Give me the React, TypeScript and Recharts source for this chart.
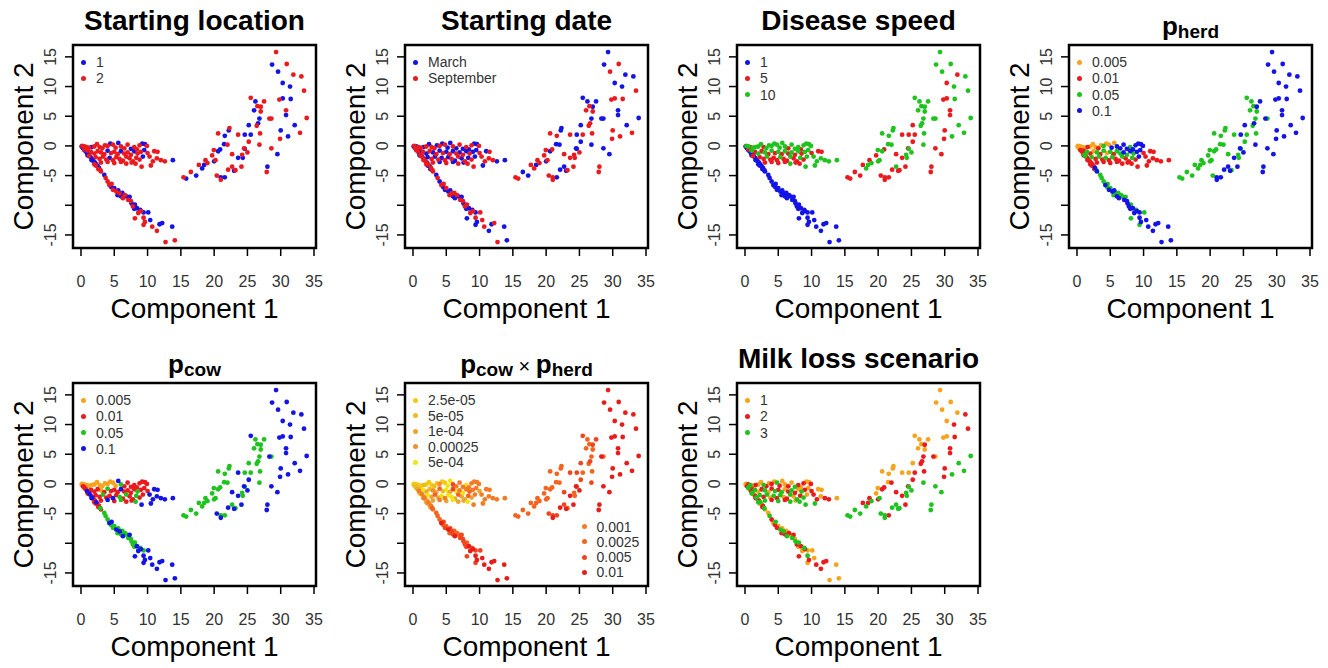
import React from 'react';
import { ScatterChart, Scatter, XAxis, YAxis, ReferenceArea } from 'recharts';

// PCA scores of the simulated scenarios, one entry per scenario.
// Order: slow-disease arm (going down), flat cluster near the origin, far cluster on the right.
const comp1 = [
  // slow arm
  0.1, 0.3, 0.5, 0.7, 0.9, 1.1, 1.3, 1.5, 1.7, 1.9, 2.1, 2.3, 2.5, 2.7, 1.0, 1.6,
  2.2, 2.0, 2.6, 3.0, 2.9, 3.5, 3.7, 4.0, 4.25, 4.5,
  4.6, 4.8, 5.0, 5.3, 5.5, 5.6, 5.8, 6.0, 6.2, 6.3,
  6.6, 6.8, 7.1, 7.3, 7.5, 7.6, 7.8, 8.0, 8.1, 8.4,
  8.6, 8.9, 9.0, 9.4, 10.1, 8.1, 9.4, 9.6, 10.4, 9.4,
  10.7, 11.8, 12.2, 11.4, 13.7, 12.7, 14.1,
  // flat cluster
  0.2, 0.5, 0.8, 1.2, 1.6, 2.0, 2.4, 2.8, 3.2, 3.6, 4.0, 4.4, 4.8, 5.2, 5.6, 6.0, 6.5, 7.0, 7.5, 8.0, 8.4, 8.8, 9.2, 9.6, 9.9,
  0.5, 1.0, 1.5, 2.0, 2.5, 3.0, 3.5, 4.0, 4.5, 5.0, 5.5, 6.0, 6.5, 7.0, 7.5, 8.0, 8.5, 9.0, 9.5, 10.0,
  1.2, 2.2, 2.8, 3.3, 3.8, 4.3, 4.8, 5.3, 5.8, 6.3, 6.8, 7.3, 7.8, 8.3, 8.8, 9.3,
  3.0, 4.0, 5.0, 6.0, 6.8, 7.6, 8.2,
  9.1, 10.5, 10.3, 11.0, 11.4, 12.0, 12.6, 13.8, 10.8, 11.5,
  // far cluster
  29.3, 28.7, 30.9, 29.6, 31.9, 33.1, 30.3, 31.4, 33.5, 25.5,
  26.2, 27.5, 30.3, 29.8, 31.5, 26.5, 27.0, 26.0, 27.0, 30.8,
  30.8, 33.9, 26.8, 28.3, 28.6, 26.6, 25.2, 26.4, 32.1, 22.3,
  22.2, 20.6, 23.6, 24.6, 25.5, 26.9, 30.0, 31.1, 32.9, 21.6,
  29.9, 25.2, 21.5, 22.0, 19.95, 20.9, 20.6, 24.5, 25.0, 26.8,
  24.6, 22.7, 24.2, 23.6, 24.3, 19.7, 20.2, 20.0, 18.7, 19.0,
  18.5, 17.7, 18.2, 24.1, 22.7, 22.1, 23.0, 23.2, 28.6, 29.5,
  28.0, 27.9, 16.5, 17.3, 15.4, 15.8, 20.4, 21.0, 21.0, 21.6,
];

const comp2 = [
  -0.1, -0.4, -0.7, -0.9, -1.2, -1.5, -1.7, -2.0, -2.3, -2.6, -2.8, -3.1, -3.4, -3.7, -1.6, -2.4,
  -3.3, -3.1, -3.9, -4.3, -4.1, -4.9, -5.4, -6.0, -6.6, -6.9,
  -6.4, -7.4, -7.1, -7.7, -8.3, -7.5, -8.0, -8.5, -7.9, -8.8,
  -8.3, -8.5, -9.1, -8.6, -9.3, -9.7, -10.2, -10.6, -9.9, -10.5,
  -11.3, -10.8, -11.0, -11.2, -11.2, -12.2, -12.1, -12.8, -12.5, -13.3,
  -13.6, -13.2, -13.0, -14.3, -13.6, -16.2, -15.9,

  0.0, -0.1, -0.2, -0.3, -0.2, -0.1, 0.3, -0.2, -0.4, 0.1, 0.0, 0.4, 0.2, -0.3, 0.5, -0.1, -0.4, 0.2, -0.5, -0.2, -0.6, 0.1, 0.4, 0.3, 0.0,
  -0.6, -0.8, -1.0, -1.3, -0.9, -1.1, -1.4, -0.8, -1.2, -1.0, -1.4, -0.9, -1.3, -1.1, -1.5, -0.9, -1.3, -1.0, -0.7, -1.2,
  -1.7, -1.9, -2.2, -1.8, -2.3, -2.0, -2.4, -1.9, -2.2, -2.5, -1.8, -2.1, -2.6, -2.0, -2.3, -1.8,
  -2.8, -2.7, -2.9, -2.7, -3.0, -2.8, -3.0,
  -3.5, -3.3, -1.8, -0.9, -2.1, -2.4, -2.6, -2.4, -2.6, -1.0,

  15.8, 13.7, 13.8, 12.5, 12.0, 11.7, 10.6, 10.0, 9.3, 8.1,
  7.5, 7.5, 8.0, 7.8, 7.9, 6.7, 6.6, 6.0, 5.8, 6.0,
  5.2, 4.7, 4.6, 4.6, 4.6, 3.8, 3.5, 3.4, 3.5, 3.0,
  2.6, 2.1, 1.9, 1.9, 1.9, 2.1, 2.6, 1.6, 2.2, 1.7,
  1.2, 0.7, 0.3, 0.2, -0.7, -0.6, -0.9, -0.4, -1.1, 0.2,
  -0.5, -1.4, -1.5, -2.0, -2.0, -1.6, -2.4, -2.6, -2.4, -2.9,
  -3.2, -3.2, -3.8, -3.5, -3.5, -4.0, -4.2, -4.1, -0.4, -1.4,
  -3.5, -4.4, -4.4, -5.0, -5.3, -5.5, -5.0, -5.3, -5.7, -5.3,
];

// scenario factors, as an index into the level lists below
const locationIdx = [
  0, 0, 0, 0, 0, 0, 0, 0, 0, 0, 0, 0, 0, 0, 0, 0,
  1, 1, 1, 1, 1, 0, 1, 1, 1, 0,
  1, 1, 0, 1, 0, 0, 1, 0, 0, 1,
  1, 0, 1, 0, 1, 0, 1, 0, 0, 0,
  1, 0, 1, 0, 0, 1, 1, 1, 0, 1,
  1, 0, 0, 1, 0, 1, 1,

  1, 1, 1, 1, 0, 1, 1, 1, 1, 1, 1, 0, 1, 1, 0, 1, 1, 1, 0, 1, 1, 1, 0, 0, 1,
  1, 1, 1, 1, 1, 1, 1, 0, 1, 1, 1, 0, 1, 1, 1, 0, 1, 1, 0, 1,
  1, 1, 1, 1, 1, 0, 1, 1, 1, 1, 1, 1, 1, 1, 1, 0,
  1, 1, 1, 1, 1, 1, 1,
  1, 1, 1, 1, 1, 1, 1, 0, 1, 1,

  1, 0, 1, 0, 1, 1, 0, 0, 1, 1,
  0, 1, 0, 1, 0, 1, 1, 0, 1, 1,
  0, 1, 0, 1, 1, 0, 0, 1, 0, 1,
  0, 1, 1, 0, 0, 1, 0, 0, 1, 0,
  1, 1, 0, 1, 1, 0, 0, 1, 1, 1,
  0, 1, 1, 0, 0, 1, 1, 0, 1, 1,
  0, 1, 0, 1, 1, 1, 0, 1, 1, 0,
  0, 1, 1, 0, 1, 0, 1, 0, 1, 0,
];

const dateIdx = [
  0, 1, 0, 1, 0, 1, 0, 1, 0, 1, 0, 1, 0, 1, 0, 1,
  0, 1, 0, 1, 1, 0, 1, 0, 1, 0,
  1, 0, 1, 0, 1, 0, 1, 0, 1, 0,
  1, 0, 1, 0, 1, 0, 1, 0, 1, 0,
  1, 0, 1, 0, 1, 0, 1, 0, 1, 0,
  1, 0, 1, 0, 0, 1, 0,

  1, 0, 1, 1, 0, 1, 0, 1, 1, 0, 1, 0, 1, 0, 0, 1, 0, 1, 0, 1, 0, 1, 0, 0, 1,
  1, 0, 1, 0, 1, 0, 1, 0, 1, 0, 1, 0, 1, 0, 1, 0, 1, 0, 0, 1,
  1, 0, 1, 0, 1, 0, 1, 0, 1, 0, 1, 0, 1, 0, 1, 0,
  1, 0, 1, 0, 1, 0, 1,
  1, 0, 1, 0, 1, 1, 0, 0, 1, 1,

  0, 0, 1, 1, 0, 0, 0, 0, 1, 0,
  0, 0, 1, 1, 1, 1, 0, 1, 1, 0,
  0, 0, 0, 0, 0, 1, 0, 1, 0, 0,
  0, 1, 1, 0, 1, 1, 1, 1, 1, 1,
  1, 0, 0, 0, 1, 1, 0, 0, 1, 0,
  0, 1, 1, 1, 1, 1, 1, 0, 1, 1,
  0, 1, 1, 1, 0, 0, 0, 1, 0, 0,
  1, 1, 0, 0, 1, 1, 1, 1, 1, 0,
];

const speedIdx = [
  0, 0, 0, 0, 0, 0, 0, 0, 0, 0, 0, 0, 0, 0, 0, 0,
  0, 0, 0, 0, 0, 0, 0, 0, 0, 0,
  0, 0, 0, 0, 0, 0, 0, 0, 0, 0,
  0, 0, 0, 0, 0, 0, 0, 0, 0, 0,
  0, 0, 0, 0, 0, 0, 0, 0, 0, 0,
  0, 0, 0, 0, 0, 0, 0,

  2, 2, 1, 2, 2, 2, 2, 1, 2, 2, 2, 2, 2, 2, 2, 2, 1, 2, 2, 2, 1, 2, 2, 2, 2,
  1, 2, 1, 2, 1, 2, 1, 2, 1, 2, 1, 2, 1, 2, 1, 2, 1, 2, 2, 1,
  1, 1, 1, 2, 1, 1, 1, 2, 1, 1, 2, 1, 1, 2, 1, 2,
  1, 1, 1, 1, 2, 1, 1,
  2, 2, 2, 1, 2, 2, 2, 2, 2, 1,

  2, 2, 2, 2, 1, 2, 1, 2, 2, 2,
  2, 2, 1, 1, 2, 2, 2, 2, 2, 1,
  1, 2, 2, 2, 2, 2, 1, 2, 2, 2,
  2, 2, 1, 1, 1, 2, 1, 2, 2, 2,
  1, 1, 2, 2, 2, 1, 2, 1, 2, 2,
  2, 1, 2, 1, 2, 1, 2, 2, 1, 2,
  2, 1, 2, 1, 2, 1, 1, 1, 1, 1,
  1, 1, 1, 1, 1, 1, 1, 1, 1, 1,
];

const pHerdIdx = [
  0, 0, 1, 1, 1, 2, 1, 1, 1, 1, 1, 1, 1, 3, 1, 1,
  1, 1, 1, 3, 2, 2, 2, 2, 3, 2,
  2, 3, 2, 3, 2, 3, 2, 3, 2, 3,
  2, 2, 3, 2, 3, 3, 3, 3, 2, 3,
  3, 2, 3, 3, 2, 2, 3, 3, 3, 2,
  3, 3, 3, 3, 3, 3, 3,

  0, 0, 0, 0, 1, 0, 0, 0, 1, 0, 2, 0, 0, 3, 0, 3, 3, 3, 3, 2, 3, 3, 3, 3, 3,
  0, 1, 2, 1, 0, 2, 1, 2, 0, 2, 1, 2, 2, 3, 2, 3, 2, 3, 3, 1,
  2, 2, 1, 2, 1, 2, 1, 2, 1, 1, 2, 1, 1, 2, 1, 3,
  1, 1, 1, 1, 1, 1, 1,
  1, 1, 1, 1, 1, 1, 1, 1, 1, 1,

  3, 3, 3, 3, 3, 3, 3, 3, 3, 2,
  2, 3, 3, 3, 3, 2, 3, 2, 2, 3,
  3, 3, 2, 3, 2, 3, 3, 2, 3, 2,
  2, 2, 2, 3, 2, 2, 3, 3, 3, 2,
  3, 2, 2, 2, 2, 2, 2, 3, 3, 3,
  2, 2, 2, 3, 2, 2, 2, 2, 2, 2,
  2, 2, 2, 3, 3, 3, 3, 2, 3, 3,
  3, 3, 2, 2, 2, 2, 2, 3, 3, 3,
];

const pCowIdx = [
  0, 1, 0, 1, 3, 1, 3, 1, 3, 1, 1, 3, 1, 1, 1, 3,
  1, 1, 1, 1, 2, 2, 2, 2, 3, 2,
  3, 2, 2, 3, 2, 2, 3, 2, 2, 3,
  2, 2, 2, 3, 2, 2, 2, 2, 2, 3,
  3, 2, 3, 2, 3, 3, 3, 3, 3, 3,
  3, 3, 3, 3, 3, 3, 3,

  0, 0, 0, 0, 0, 0, 0, 0, 0, 0, 0, 0, 0, 0, 3, 2, 1, 1, 1, 1, 1, 1, 1, 1, 1,
  1, 0, 1, 1, 1, 0, 1, 2, 1, 1, 1, 3, 1, 1, 1, 1, 2, 1, 1, 1,
  1, 1, 1, 2, 1, 1, 3, 1, 2, 1, 2, 1, 1, 2, 1, 1,
  1, 3, 1, 2, 1, 1, 2,
  3, 3, 3, 3, 3, 3, 3, 3, 3, 3,

  3, 3, 3, 3, 3, 3, 3, 3, 3, 3,
  2, 2, 3, 3, 3, 2, 2, 2, 2, 3,
  3, 3, 2, 3, 2, 2, 2, 2, 3, 2,
  2, 2, 3, 2, 2, 2, 3, 3, 3, 2,
  3, 3, 2, 2, 2, 2, 2, 3, 3, 2,
  2, 3, 2, 3, 2, 2, 2, 2, 2, 2,
  2, 2, 2, 3, 2, 3, 3, 2, 3, 3,
  3, 3, 2, 2, 2, 2, 3, 2, 3, 2,
];

const milkIdx = [
  0, 1, 2, 0, 1, 2, 0, 1, 2, 0, 1, 2, 0, 1, 2, 1,
  0, 2, 1, 0, 2, 0, 2, 1, 0, 1,
  2, 1, 0, 2, 1, 0, 2, 1, 0, 2,
  1, 0, 2, 1, 0, 2, 1, 0, 2, 1,
  0, 2, 1, 0, 0, 1, 2, 1, 0, 0,
  1, 1, 1, 1, 0, 0, 0,

  0, 1, 2, 0, 1, 0, 0, 2, 1, 0, 1, 0, 2, 1, 0, 0, 1, 0, 2, 1, 0, 1, 0, 0, 1,
  2, 1, 2, 0, 1, 2, 0, 1, 2, 1, 2, 0, 1, 2, 1, 0, 2, 1, 0, 1,
  0, 2, 1, 2, 0, 2, 1, 2, 0, 1, 2, 0, 2, 1, 2, 0,
  2, 1, 2, 1, 2, 0, 2,
  2, 2, 1, 0, 0, 1, 1, 0, 1, 0,

  0, 0, 0, 0, 0, 1, 0, 1, 1, 0,
  0, 0, 0, 0, 1, 0, 1, 0, 0, 1,
  1, 2, 1, 1, 0, 1, 0, 1, 2, 0,
  0, 0, 0, 0, 1, 1, 1, 2, 2, 0,
  1, 1, 0, 1, 0, 1, 1, 1, 2, 2,
  2, 1, 2, 1, 2, 0, 2, 1, 1, 2,
  1, 1, 2, 1, 2, 2, 2, 2, 2, 2,
  2, 2, 2, 2, 2, 2, 2, 2, 2, 1,
];

const locationLevels = ['1', '2'];
const dateLevels = ['March', 'September'];
const speedLevels = ['1', '5', '10'];
const pLevels = ['0.005', '0.01', '0.05', '0.1'];
const productLevels = ['2.5e-05', '5e-05', '1e-04', '0.00025', '5e-04', '0.001', '0.0025', '0.005', '0.01'];
const milkLevels = ['1', '2', '3'];

const xTicks = [0, 5, 10, 15, 20, 25, 30, 35];
const yTicks = [-15, -10, -5, 0, 5, 10, 15];

// pcow x pherd level of each scenario
const productIdx = pHerdIdx.map((h, i) => {
  const v = Number(pLevels[h]) * Number(pLevels[pCowIdx[i]]);
  return productLevels.findIndex((l) => Math.abs(Number(l) - v) < v * 1e-6);
});

const FONT = "'Liberation Sans', Arial, Helvetica, sans-serif";
const BLUE = '#1414e6';
const RED = '#ea1a1f';
const GREEN = '#1ec31e';
const ORANGE = '#f7a41c';
const HEAT = ['#f7c80f', '#ecbc22', '#eda437', '#f28f2c', '#f2e410', '#f47b25', '#f2641f', '#ef4620', '#e81c1c'];

const X_DOMAIN: [number, number] = [-1.2, 35.3];
const Y_DOMAIN: [number, number] = [-17.2, 17.0];

// plot box inside each 332 x 336 panel
const BOX_L = 73;
const BOX_T = 45;
const BOX_W = 243;

function YTick(props: any) {
  const { x, y, payload } = props;
  // the -10 label is dropped, like in the original R plot
  if (payload.value === -10) return <g />;
  const tx = x - 7;
  return (
    <text x={tx} y={y} transform={`rotate(-90 ${tx} ${y})`} textAnchor="middle" fontSize={16} fill="#333">
      {payload.value}
    </text>
  );
}

const xLabel = () => (
  <text x={BOX_L + BOX_W / 2} y={318} textAnchor="middle" fontSize={28} fill="#000">
    Component 1
  </text>
);

const yLabel = () => (
  <text x={33} y={146.5} transform="rotate(-90 33 146.5)" textAnchor="middle" fontSize={28} fill="#000">
    Component 2
  </text>
);

const P = ({ s }: { s: string }) => (
  <span>
    <span style={{ fontSize: 26 }}>p</span>
    <span style={{ fontSize: 19, position: 'relative', top: 3 }}>{s}</span>
  </span>
);

type PanelCfg = {
  title: React.ReactNode;
  pTitle?: boolean;
  factor: number[];
  levels: string[];
  colors: string[];
  split?: number;
};

const panels: PanelCfg[] = [
  { title: 'Starting location', factor: locationIdx, levels: locationLevels, colors: [BLUE, RED] },
  { title: 'Starting date', factor: dateIdx, levels: dateLevels, colors: [BLUE, RED] },
  { title: 'Disease speed', factor: speedIdx, levels: speedLevels, colors: [BLUE, RED, GREEN] },
  { title: <P s="herd" />, pTitle: true, factor: pHerdIdx, levels: pLevels, colors: [ORANGE, RED, GREEN, BLUE] },
  { title: <P s="cow" />, pTitle: true, factor: pCowIdx, levels: pLevels, colors: [ORANGE, RED, GREEN, BLUE] },
  {
    title: (
      <span>
        <P s="cow" />
        <span style={{ fontSize: 20, fontWeight: 400 }}> × </span>
        <P s="herd" />
      </span>
    ),
    pTitle: true,
    factor: productIdx,
    levels: productLevels,
    colors: HEAT,
    split: 5,
  },
  { title: 'Milk loss scenario', factor: milkIdx, levels: milkLevels, colors: [ORANGE, RED, GREEN] },
];

function LegendBlock({ items, colors, x, y, step }: { items: string[]; colors: string[]; x: number; y: number; step: number }) {
  return (
    <>
      {items.map((lab, k) => (
        <React.Fragment key={lab}>
          <div
            style={{
              position: 'absolute', left: x - 2.5, top: y + k * step - 2.5, width: 5, height: 5,
              borderRadius: '50%', background: colors[k],
            }}
          />
          <div
            style={{
              position: 'absolute', left: x + 12.5, top: y + k * step - 8, fontSize: 14,
              lineHeight: '16px', color: '#333', whiteSpace: 'nowrap',
            }}
          >
            {lab}
          </div>
        </React.Fragment>
      ))}
    </>
  );
}

function Panel({ cfg, left, top }: { cfg: PanelCfg; left: number; top: number }) {
  const series = cfg.levels.map((name, k) => ({
    name,
    color: cfg.colors[k],
    data: comp1.map((x, i) => ({ x, y: comp2[i], k: cfg.factor[i] })).filter((p) => p.k === k),
  }));
  const split = cfg.split ?? cfg.levels.length;

  return (
    <div style={{ position: 'absolute', left, top, width: 332, height: 336 }}>
      <ScatterChart width={332} height={336} margin={{ top: BOX_T, right: 16, bottom: 0, left: 0 }}>
        <XAxis
          type="number" dataKey="x" domain={X_DOMAIN} ticks={xTicks} interval={0} allowDataOverflow
          height={88} axisLine={false} tickSize={8} tickMargin={20}
          tickLine={{ stroke: '#000', strokeWidth: 1.5 }} tick={{ fontSize: 16, fill: '#333' }}
          label={xLabel}
        />
        <YAxis
          type="number" dataKey="y" domain={Y_DOMAIN} ticks={yTicks} interval={0} allowDataOverflow
          width={BOX_L} axisLine={false} tickSize={8}
          tickLine={{ stroke: '#000', strokeWidth: 1.5 }} tick={YTick}
          label={yLabel}
        />
        {series.map((s) => (
          <Scatter
            key={s.name} name={s.name} data={s.data} fill={s.color} isAnimationActive={false}
            shape={(p: any) => <circle cx={p.cx} cy={p.cy} r={2.4} fill={s.color} />}
          />
        ))}
        <ReferenceArea
          x1={X_DOMAIN[0]} x2={X_DOMAIN[1]} y1={Y_DOMAIN[0]} y2={Y_DOMAIN[1]}
          fill="none" fillOpacity={0} stroke="#000" strokeWidth={2.5} ifOverflow="visible"
        />
      </ScatterChart>

      <div
        style={{
          position: 'absolute', left: BOX_L, width: BOX_W, top: cfg.pTitle ? 12 : 7,
          textAlign: 'center', fontSize: 28, fontWeight: 700, lineHeight: '28px', whiteSpace: 'nowrap', color: '#000',
        }}
      >
        {cfg.title}
      </div>

      <LegendBlock
        items={cfg.levels.slice(0, split)} colors={cfg.colors.slice(0, split)}
        x={BOX_L + 10.5} y={BOX_T + 17} step={cfg.split ? 15.5 : 16.3}
      />
      {cfg.split ? (
        <LegendBlock
          items={cfg.levels.slice(split)} colors={cfg.colors.slice(split)}
          x={BOX_L + 179} y={BOX_T + 143.7} step={15.2}
        />
      ) : null}
    </div>
  );
}

export default function App() {
  return (
    <div
      style={{
        position: 'absolute', left: 0, top: 0, width: 1328, height: 668, background: '#fff',
        fontFamily: FONT, overflow: 'hidden',
      }}
    >
      {panels.map((cfg, i) => (
        <Panel key={i} cfg={cfg} left={(i % 4) * 332} top={Math.floor(i / 4) * 338} />
      ))}
    </div>
  );
}
